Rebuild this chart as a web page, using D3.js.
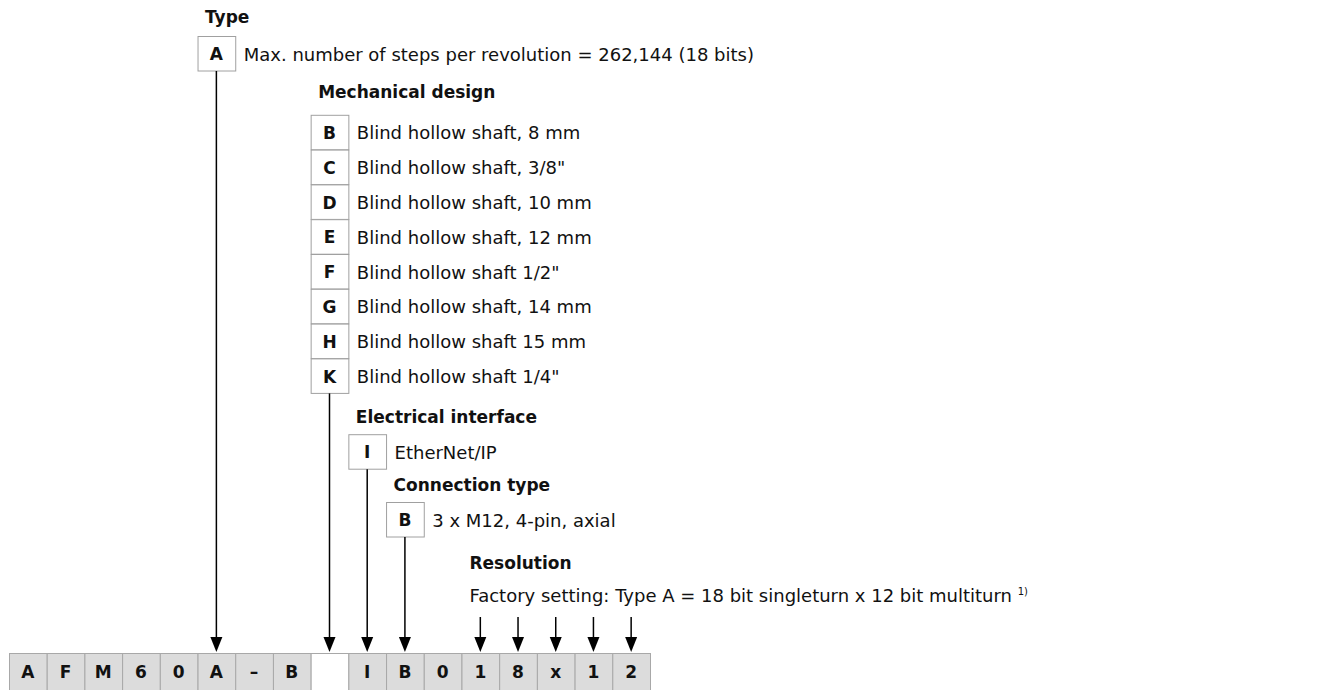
<!DOCTYPE html>
<html>
<head>
<meta charset="utf-8">
<script src="https://cdn.jsdelivr.net/npm/d3@7"></script>
<style>
  body { margin: 0; background: #fff; }
  svg { display: block; }
  text { font-family: "DejaVu Sans", sans-serif; fill: #111; }
</style>
</head>
<body>
<svg width="1335" height="690"></svg>
<script>
// type code cells, bottom row
const codeCells = ["A", "F", "M", "6", "0", "A", "\u2013", "B", "", "I", "B", "0", "1", "8", "x", "1", "2"];

// option groups: [letter, description]
const typeOptions = [["A", "Max. number of steps per revolution = 262,144 (18 bits)"]];
const mechOptions = [
	["B", "Blind hollow shaft, 8 mm"],
	["C", "Blind hollow shaft, 3/8\""],
	["D", "Blind hollow shaft, 10 mm"],
	["E", "Blind hollow shaft, 12 mm"],
	["F", "Blind hollow shaft 1/2\""],
	["G", "Blind hollow shaft, 14 mm"],
	["H", "Blind hollow shaft 15 mm"],
	["K", "Blind hollow shaft 1/4\""]
];
const elecOptions = [["I", "EtherNet/IP"]];
const connOptions = [["B", "3 x M12, 4-pin, axial"]];

const groupTitles = ["Type", "Mechanical design", "Electrical interface", "Connection type"];
const groupColumns = [5, 8, 9, 10];
const groupOptions = [typeOptions, mechOptions, elecOptions, connOptions];

const resolutionTitle = "Resolution";
const resolutionNote = "Factory setting: Type A = 18 bit singleturn x 12 bit multiturn";
const resolutionFootnote = "1)";
const resolutionColumns = [12, 13, 14, 15, 16];

const svg = d3.select("svg");

const x = d3.scaleBand()
	.domain(d3.range(codeCells.length))
	.range([9, 650]);

const rowH = 34.8;
const boxH = 34.5;
const rowTop = 653;
const arrowTip = 652;

// vertical layout, walking down
let headY = [], boxTop = [];
let cur = 17;
const headToBox = [19, 23, 17, 17];
const boxToHead = [21, 24, 16];
groupOptions.forEach((opts, i) => {
	headY.push(cur);
	boxTop.push(cur + headToBox[i]);
	cur = cur + headToBox[i] + opts.length * rowH + (boxToHead[i] || 0);
});
const resHeadY = 563;
const resNoteY = 596;
const resArrowTop = 617;

const headFont = 17;
const bodyFont = 18;

function arrow(g, cx, y0) {
	g.append("line")
		.attr("x1", cx).attr("x2", cx)
		.attr("y1", y0).attr("y2", arrowTip - 12)
		.attr("stroke", "#000").attr("stroke-width", 1.5);
	g.append("path")
		.attr("d", `M${cx - 6},${arrowTip - 15}L${cx + 6},${arrowTip - 15}L${cx},${arrowTip}Z`)
		.attr("fill", "#000");
}

// groups
groupOptions.forEach((opts, i) => {
	const col = groupColumns[i];
	const g = svg.append("g");
	const bx = x(col);

	g.append("text")
		.attr("x", bx + 7.5)
		.attr("y", headY[i])
		.attr("dy", "0.35em")
		.attr("font-size", headFont)
		.attr("font-weight", "bold")
		.text(groupTitles[i]);

	const rows = g.selectAll("g.opt")
		.data(opts)
		.join("g")
		.attr("class", "opt")
		.attr("transform", (d, j) => `translate(${bx},${boxTop[i] + j * rowH})`);

	rows.append("rect")
		.attr("x", 0.5).attr("y", 0.5)
		.attr("width", x.bandwidth())
		.attr("height", boxH)
		.attr("fill", "#fff")
		.attr("stroke", "#a0a0a0");

	rows.append("text")
		.attr("x", x.bandwidth() / 2)
		.attr("y", boxH / 2 + 1)
		.attr("dy", "0.35em")
		.attr("text-anchor", "middle")
		.attr("font-size", headFont)
		.attr("font-weight", "bold")
		.text(d => d[0]);

	rows.append("text")
		.attr("x", x.bandwidth() + 8.5)
		.attr("y", boxH / 2 + 1)
		.attr("dy", "0.35em")
		.attr("font-size", bodyFont)
		.text(d => d[1]);

	arrow(g, bx + x.bandwidth() / 2, boxTop[i] + (opts.length - 1) * rowH + boxH + 0.5);
});

// resolution
const rg = svg.append("g");
rg.append("text")
	.attr("x", x(12) + 8)
	.attr("y", resHeadY)
	.attr("dy", "0.35em")
	.attr("font-size", headFont)
	.attr("font-weight", "bold")
	.text(resolutionTitle);

const note = rg.append("text")
	.attr("x", x(12) + 8)
	.attr("y", resNoteY)
	.attr("dy", "0.35em")
	.attr("font-size", bodyFont);
note.append("tspan").text(resolutionNote + " ");
note.append("tspan")
	.attr("font-size", 10)
	.attr("dy", "-0.7em")
	.text(resolutionFootnote);

resolutionColumns.forEach(c => arrow(rg, x(c) + x.bandwidth() / 2, resArrowTop));

// bottom code row
const cells = svg.append("g")
	.selectAll("g")
	.data(codeCells)
	.join("g")
	.attr("transform", (d, i) => `translate(${x(i)},${rowTop})`);

cells.append("rect")
	.attr("x", 0.5).attr("y", 0.5)
	.attr("width", x.bandwidth())
	.attr("height", 40)
	.attr("fill", d => d === "" ? "#fff" : "#dcdcdc")
	.attr("stroke", "#a8a8a8");

cells.append("text")
	.attr("x", x.bandwidth() / 2)
	.attr("y", 19)
	.attr("dy", "0.35em")
	.attr("text-anchor", "middle")
	.attr("font-size", headFont)
	.attr("font-weight", "bold")
	.text(d => d);
</script>
</body>
</html>
